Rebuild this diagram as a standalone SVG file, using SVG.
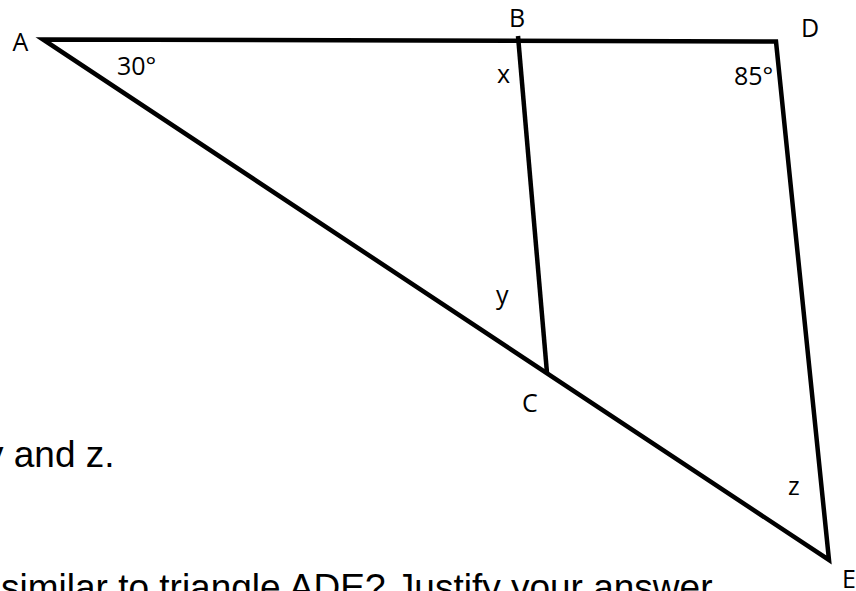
<svg xmlns="http://www.w3.org/2000/svg" width="856" height="591" viewBox="0 0 856 591">
<style>
.lbl{font-family:"Open Sans","Noto Sans","DejaVu Sans",sans-serif;font-size:25px;fill:#000}
.txt{font-family:"Liberation Sans",Arial,sans-serif;font-size:37px;fill:#000}
.edge{fill:none;stroke:#000;stroke-width:4.5;stroke-linejoin:miter;stroke-linecap:butt}
</style>
<rect width="856" height="591" fill="#fff"/>
<g id="connectors">
<polygon class="edge" points="43,39.5 776,41.5 829,560"/>
<line class="edge" x1="518" y1="36" x2="547" y2="373"/>
</g>
<g id="A"><text class="lbl" x="12.5" y="51">A</text></g>
<g id="B"><text class="lbl" x="509" y="27">B</text></g>
<g id="C"><text class="lbl" x="522" y="412">C</text></g>
<g id="D"><text class="lbl" x="801" y="37">D</text></g>
<g id="E"><text class="lbl" x="842" y="588">E</text></g>
<g id="angles">
<text class="lbl" x="117" y="75">30°</text>
<text class="lbl" x="734" y="85">85°</text>
<text class="lbl" x="497" y="83">x</text>
<text class="lbl" x="496" y="304">y</text>
<text class="lbl" x="788" y="495">z</text>
</g>
<g id="question">
<text class="txt" x="-15" y="467">y and z.</text>
<text class="txt" x="1" y="600">similar to triangle ADE? Justify your answer.</text>
</g>
</svg>
